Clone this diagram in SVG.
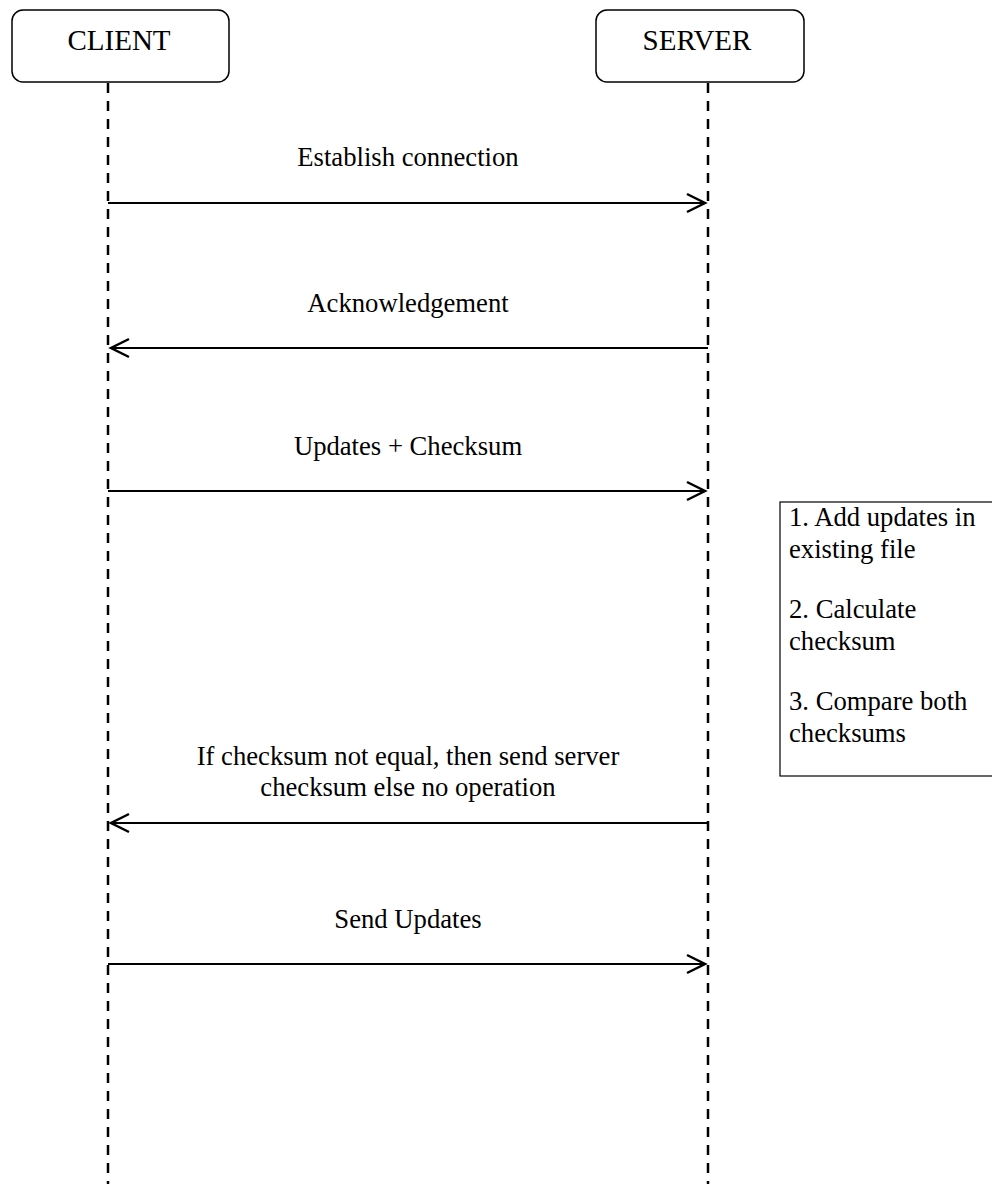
<svg xmlns="http://www.w3.org/2000/svg" width="992" height="1184" viewBox="0 0 992 1184">
<defs>
<style>
text{font-family:"Liberation Serif","Times New Roman",serif;font-size:26.67px;fill:#000}
.lbl{text-anchor:middle}
.hd{font-size:29px}
.head{fill:#fff;stroke:#000;stroke-width:1.5}
.life{stroke:#000;stroke-width:2.5;stroke-dasharray:10 8;fill:none}
.msg{stroke:#000;stroke-width:2;fill:none}
.note{fill:#fff;stroke:#000;stroke-width:1.2}
</style>
<marker id="arr" markerUnits="userSpaceOnUse" markerWidth="24" markerHeight="24" viewBox="-20 -12 24 24" refX="0" refY="0" orient="auto">
<polyline points="-18,-9 0,0 -18,9" fill="none" stroke="#000" stroke-width="2.5"/>
</marker>
</defs>
<g id="client">
<rect class="head" x="12" y="10" width="217" height="72" rx="11"/>
<text class="lbl hd" x="119" y="50">CLIENT</text>
</g>
<g id="server">
<rect class="head" x="596" y="10" width="208" height="72" rx="11"/>
<text class="lbl hd" x="697" y="50">SERVER</text>
</g>
<g id="lifelines">
<line class="life" x1="108" y1="83" x2="108" y2="1184"/>
<line class="life" x1="708" y1="83" x2="708" y2="1184"/>
</g>
<g id="note">
<rect class="note" x="780" y="502" width="230" height="274"/>
<text x="789" y="526">1. Add updates in</text>
<text x="789" y="558">existing file</text>
<text x="789" y="618">2. Calculate</text>
<text x="789" y="650">checksum</text>
<text x="789" y="710">3. Compare both</text>
<text x="789" y="742">checksums</text>
</g>
<g id="connectors">
<line class="msg" x1="108" y1="203" x2="705" y2="203" marker-end="url(#arr)"/>
<line class="msg" x1="708" y1="348" x2="111" y2="348" marker-end="url(#arr)"/>
<line class="msg" x1="108" y1="491" x2="705" y2="491" marker-end="url(#arr)"/>
<line class="msg" x1="708" y1="823" x2="111" y2="823" marker-end="url(#arr)"/>
<line class="msg" x1="108" y1="964" x2="705" y2="964" marker-end="url(#arr)"/>
</g>
<g id="labels">
<text class="lbl" x="408" y="166">Establish connection</text>
<text class="lbl" x="408" y="312">Acknowledgement</text>
<text class="lbl" x="408" y="455">Updates + Checksum</text>
<text class="lbl" x="408" y="765">If checksum not equal, then send server</text>
<text class="lbl" x="408" y="796">checksum else no operation</text>
<text class="lbl" x="408" y="928">Send Updates</text>
</g>
</svg>
